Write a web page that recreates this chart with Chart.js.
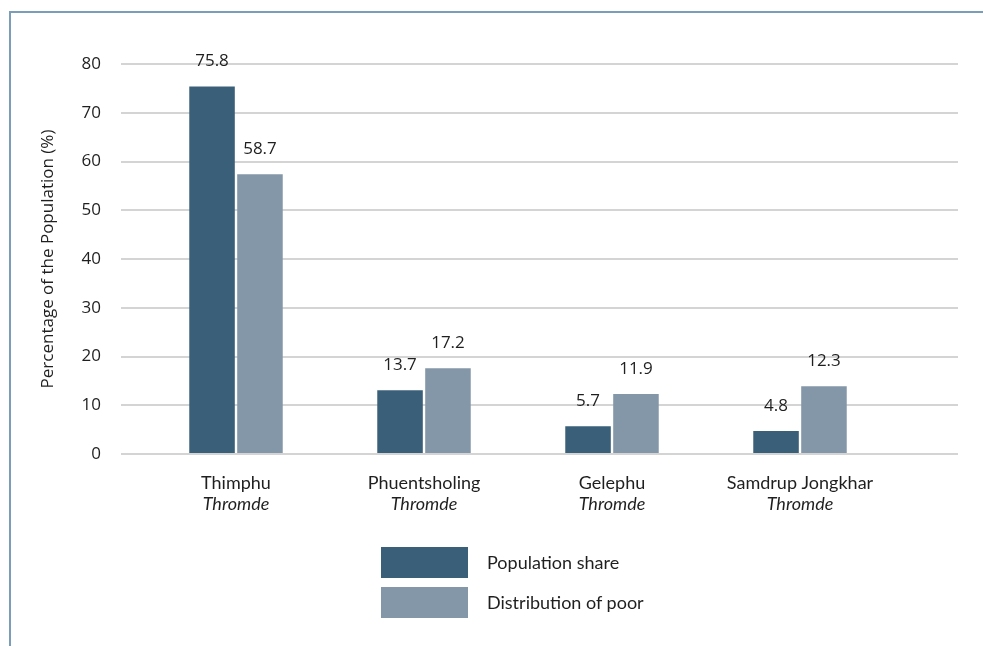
<!DOCTYPE html>
<html lang="en">
<head>
    <meta charset="UTF-8">
    <title>Population share and distribution of poor by Thromde</title>
    <script src="https://cdn.jsdelivr.net/npm/chart.js"></script>
    <style>
        html, body {
            margin: 0;
            padding: 0;
            background: #fff;
        }

        body {
            width: 983px;
            height: 646px;
            position: relative;
            overflow: hidden;
            font-family: 'Lato', sans-serif;
        }

        .frame {
            position: absolute;
            left: 9px;
            top: 11px;
            right: 0;
            bottom: 0;
            border-left: 2px solid #7c9db8;
            border-top: 2px solid #7c9db8;
        }

        #chart {
            position: absolute;
            left: 0;
            top: 0;
        }

        #legend {
            position: absolute;
            left: 381px;
            top: 542px;
        }

        .item {
            display: flex;
            align-items: center;
            height: 40px;
        }

        .swatch {
            width: 87px;
            height: 31px;
            margin-right: 19px;
        }

        .item span {
            font-size: 18px;
            color: #1f1f1f;
        }
    </style>
</head>
<body>
<div class="frame"></div>
<canvas id="chart" width="983" height="646"></canvas>
<div id="legend"></div>

<script>
    // categories (two label lines, the second one in italics)
    const cities = ['Thimphu', 'Phuentsholing', 'Gelephu', 'Samdrup Jongkhar'];
    const cityType = ['Thromde', 'Thromde', 'Thromde', 'Thromde'];

    const seriesNames = ['Population share', 'Distribution of poor'];
    const seriesColors = ['#3a6079', '#8497a8'];

    // bar heights as drawn in the figure
    const populationShare = [75.4, 13.1, 5.7, 4.7];
    const distributionOfPoor = [57.4, 17.6, 12.3, 13.9];

    // value labels printed above the bars
    const populationShareLabels = ['75.8', '13.7', '5.7', '4.8'];
    const distributionOfPoorLabels = ['58.7', '17.2', '11.9', '12.3'];

    const yMin = 0, yMax = 80, yStep = 10;

    const textColor = '#1f1f1f';
    const gridColor = '#d4d4d4';

    // write the value text above each bar
    const valueLabels = {
        id: 'valueLabels',
        afterDatasetsDraw(chart) {
            const ctx = chart.ctx;
            const labelSets = [populationShareLabels, distributionOfPoorLabels];
            ctx.save();
            ctx.font = '17px "Open Sans"';
            ctx.fillStyle = textColor;
            ctx.textAlign = 'center';
            ctx.textBaseline = 'middle';
            chart.data.datasets.forEach((ds, i) => {
                chart.getDatasetMeta(i).data.forEach((bar, j) => {
                    ctx.fillText(labelSets[i][j], bar.x, bar.y - 25);
                });
            });
            ctx.restore();
        }
    };

    new Chart(document.getElementById('chart').getContext('2d'), {
        type: 'bar',
        data: {
            labels: cities,
            datasets: [{
                label: seriesNames[0],
                data: populationShare,
                backgroundColor: seriesColors[0],
                categoryPercentage: 0.51,
                barPercentage: 0.95
            }, {
                label: seriesNames[1],
                data: distributionOfPoor,
                backgroundColor: seriesColors[1],
                categoryPercentage: 0.51,
                barPercentage: 0.95
            }]
        },
        options: {
            responsive: false,
            animation: false,
            layout: {
                padding: {left: 38, right: 25, top: 64, bottom: 130}
            },
            plugins: {
                legend: {display: false},
                tooltip: {enabled: false}
            },
            scales: {
                x: {
                    grid: {display: false, drawTicks: false},
                    border: {display: false},
                    ticks: {
                        padding: 18,
                        color: textColor,
                        font: {family: 'Lato', size: 18}
                    },
                    afterFit: s => { s.height = 39; }
                },
                x2: {
                    type: 'category',
                    labels: cityType,
                    position: 'bottom',
                    grid: {display: false, drawTicks: false},
                    border: {display: false},
                    ticks: {
                        padding: 0,
                        color: textColor,
                        font: {family: 'Lato', size: 18, style: 'italic'}
                    },
                    afterFit: s => { s.height = 23; }
                },
                y: {
                    min: yMin,
                    max: yMax,
                    ticks: {
                        stepSize: yStep,
                        padding: 20,
                        color: textColor,
                        font: {family: 'Open Sans', size: 17}
                    },
                    grid: {color: gridColor, lineWidth: 2, tickLength: 21},
                    border: {display: false},
                    title: {
                        display: true,
                        text: 'Percentage of the Population (%)',
                        color: textColor,
                        font: {family: 'Open Sans', size: 17},
                        padding: {top: 0, bottom: 0}
                    },
                    afterFit: s => { s.width = 104; }
                },
                yRight: {
                    position: 'right',
                    min: yMin,
                    max: yMax,
                    ticks: {display: false, stepSize: yStep},
                    grid: {drawOnChartArea: false, color: gridColor, lineWidth: 2, tickLength: 64},
                    border: {display: false},
                    afterFit: s => { s.width = 64; }
                }
            }
        },
        plugins: [valueLabels]
    });

    // legend: stacked boxes under the chart
    const legend = document.getElementById('legend');
    seriesNames.forEach((name, i) => {
        const item = document.createElement('div');
        item.className = 'item';
        const sw = document.createElement('div');
        sw.className = 'swatch';
        sw.style.background = seriesColors[i];
        const txt = document.createElement('span');
        txt.textContent = name;
        item.appendChild(sw);
        item.appendChild(txt);
        legend.appendChild(item);
    });
</script>
</body>
</html>
